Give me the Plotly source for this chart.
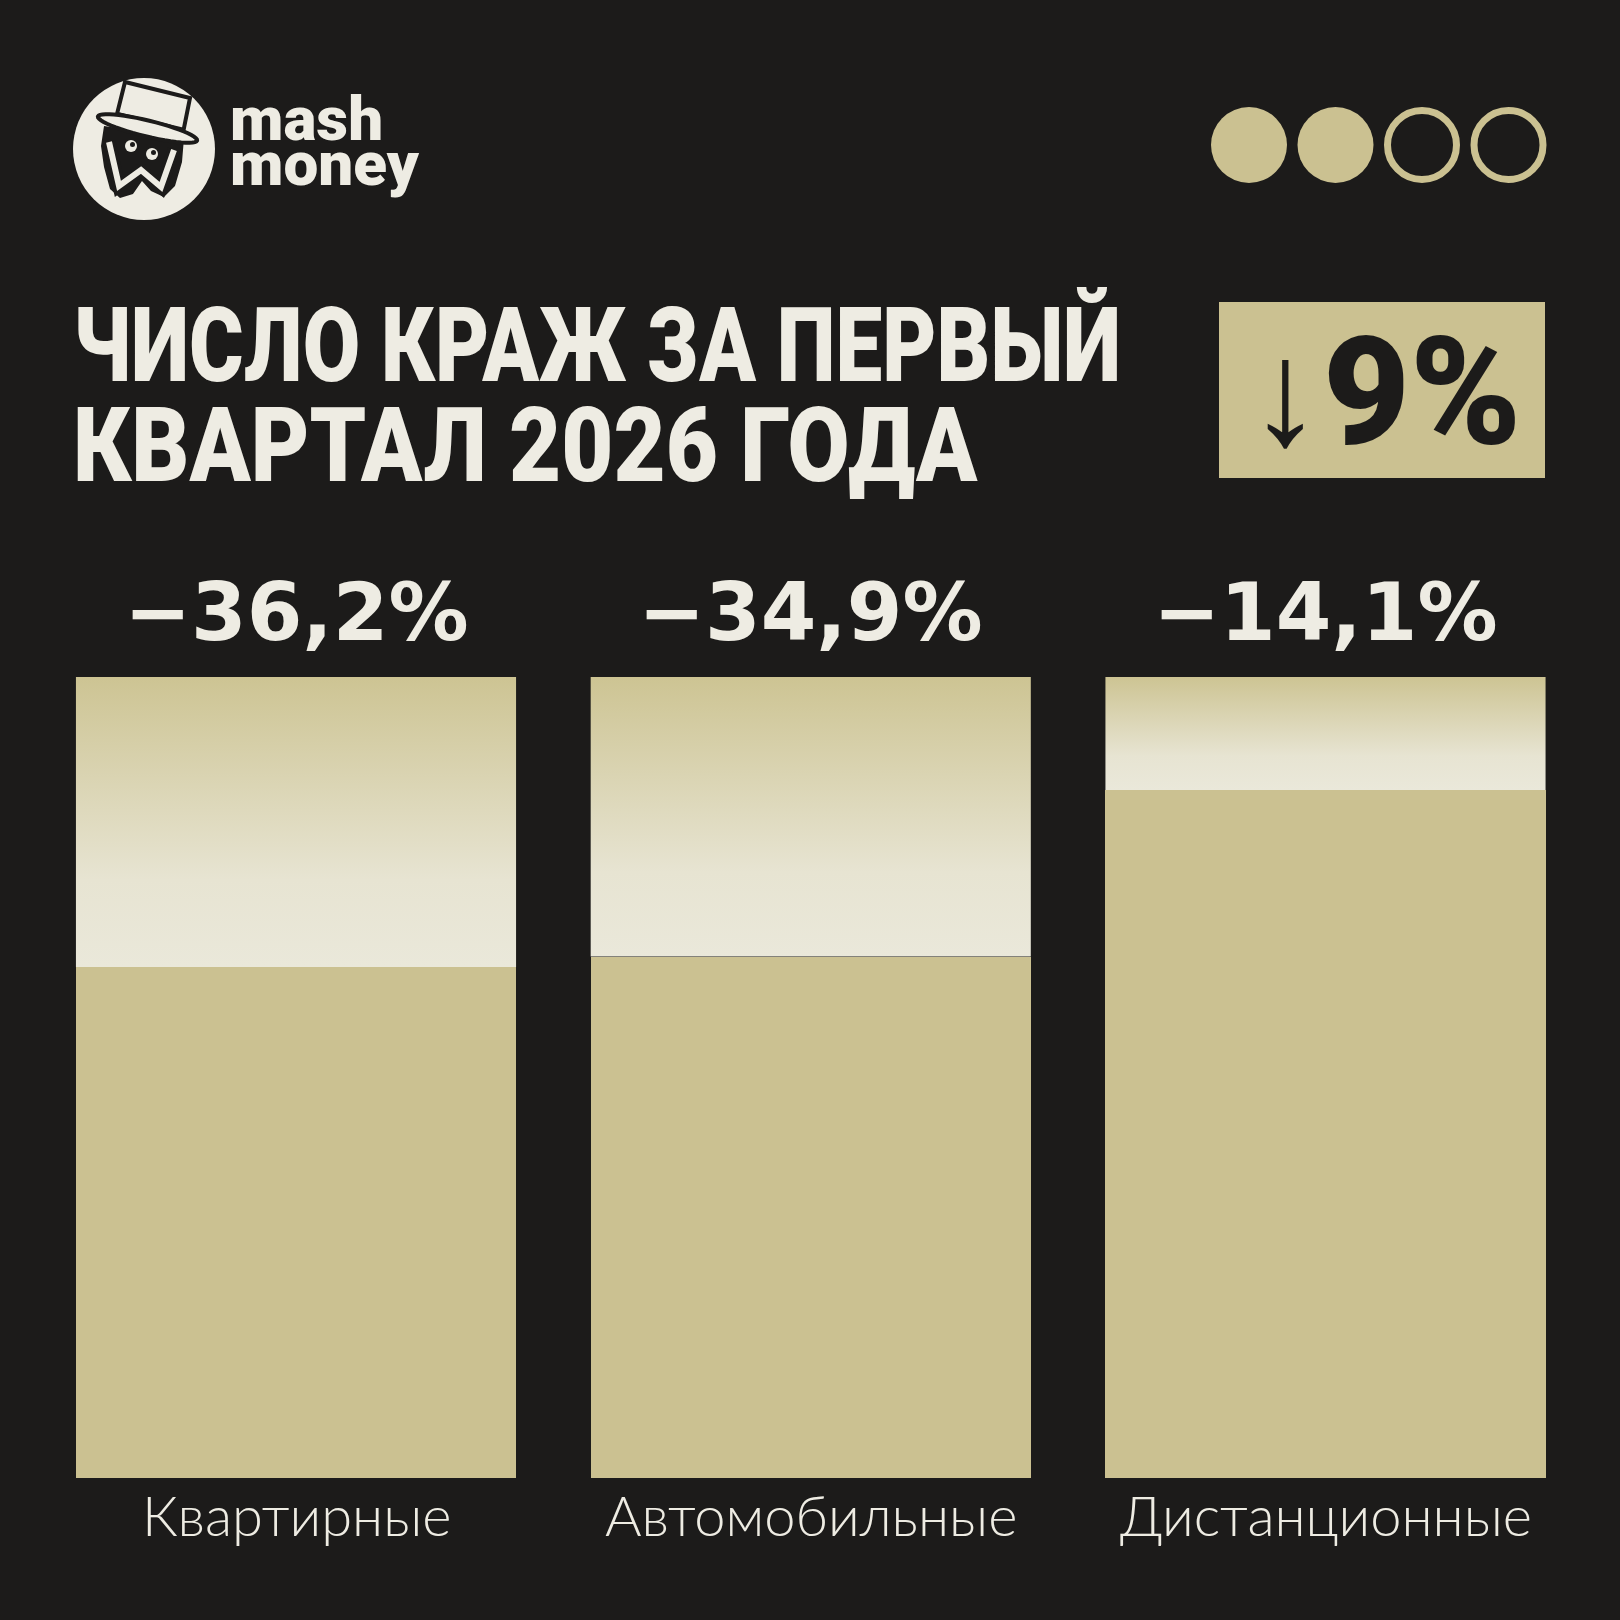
import math
import plotly.graph_objects as go

# ---------------- data ----------------
categories = ["Квартирные", "Автомобильные", "Дистанционные"]
decline_pct = [36.2, 34.9, 14.1]          # падение числа краж, %
prev_level = [100, 100, 100]              # уровень прошлого года (=100%)
title_lines = ["ЧИСЛО КРАЖ ЗА ПЕРВЫЙ", "КВАРТАЛ 2026 ГОДА"]
total_change = "↓9%"
brand_lines = ["mash", "money"]
progress_filled = [True, True, False, False]

current_level = [p - d for p, d in zip(prev_level, decline_pct)]
pct_labels = [("−" + f"{d:.1f}%").replace(".", ",") for d in decline_pct]

# ---------------- style ----------------
W = H = 1620
BG = "#1c1b1a"
TAN = "#cbc191"
TAN_TOP = "#cdc493"
CREAM = "#eae8da"
TEXT = "#eeece3"
DARK = "#1c1b1a"
BAR_W = 0.855


def PX(x):
    return x / W


def PY(y):
    return 1 - y / H


def path_from(points, close=True):
    s = "M " + " L ".join(f"{PX(x):.5f},{PY(y):.5f}" for x, y in points)
    return s + (" Z" if close else "")


fig = go.Figure()

# current level bars
fig.add_trace(go.Bar(
    x=list(range(len(categories))), y=current_level, width=BAR_W,
    marker=dict(color=TAN, line=dict(width=0)), hoverinfo="skip",
))

# lost part (previous level minus current) with vertical gradient
for i, (c, p) in enumerate(zip(current_level, prev_level)):
    fig.add_trace(go.Scatter(
        x=[i - BAR_W / 2, i + BAR_W / 2, i + BAR_W / 2, i - BAR_W / 2, i - BAR_W / 2],
        y=[c, c, p, p, c],
        mode="lines", line=dict(width=0), fill="toself",
        fillgradient=dict(type="vertical", start=c, stop=p,
                          colorscale=[[0, CREAM], [0.3, "#e7e4d2"], [1, TAN_TOP]]),
        hoverinfo="skip",
    ))

annotations = []
# percentage labels
for i, t in enumerate(pct_labels):
    annotations.append(dict(x=i, xref="x", y=PY(612), yref="paper", text=t,
                            showarrow=False, xanchor="center", yanchor="middle",
                            font=dict(family="DejaVu Sans", size=80, color=TEXT, weight="bold")))
# category labels
for i, t in enumerate(categories):
    annotations.append(dict(x=i, xref="x", y=PY(1514), yref="paper", text=t,
                            showarrow=False, xanchor="center", yanchor="middle",
                            font=dict(family="Lato", size=56, color=TEXT, weight=300)))
# title
for line, yc in zip(title_lines, [345, 446]):
    annotations.append(dict(x=PX(71), xref="paper", y=PY(yc), yref="paper", text=line,
                            showarrow=False, xanchor="left", yanchor="middle",
                            font=dict(family="Roboto", size=103, color=TEXT, weight=900)))
# badge text
annotations.append(dict(x=PX(1384), xref="paper", y=PY(393), yref="paper", text=total_change,
                        showarrow=False, xanchor="center", yanchor="middle",
                        font=dict(family="Roboto", size=150, color=DARK, weight=900)))
# brand
for line, yc in zip(brand_lines, [118, 163]):
    annotations.append(dict(x=PX(228), xref="paper", y=PY(yc), yref="paper", text=line,
                            showarrow=False, xanchor="left", yanchor="middle",
                            font=dict(family="Roboto", size=62, color=TEXT, weight=900)))

shapes = []
# progress dots
for k, filled in enumerate(progress_filled):
    cx, cy, r = 1249 + k * 86.5, 145, 38
    if filled:
        shapes.append(dict(type="circle", xref="paper", yref="paper",
                           x0=PX(cx - r), x1=PX(cx + r), y0=PY(cy + r), y1=PY(cy - r),
                           fillcolor=TAN, line=dict(width=0)))
    else:
        rr = r - 3.5
        shapes.append(dict(type="circle", xref="paper", yref="paper",
                           x0=PX(cx - rr), x1=PX(cx + rr), y0=PY(cy + rr), y1=PY(cy - rr),
                           fillcolor="rgba(0,0,0,0)", line=dict(color=TAN, width=7)))
# badge box
shapes.append(dict(type="rect", xref="paper", yref="paper", layer="below",
                   x0=PX(1219), x1=PX(1545), y0=PY(478), y1=PY(302),
                   fillcolor=TAN, line=dict(width=0)))

# logo
lcx, lcy, lr = 144, 149, 71
shapes.append(dict(type="circle", xref="paper", yref="paper",
                   x0=PX(lcx - lr), x1=PX(lcx + lr), y0=PY(lcy + lr), y1=PY(lcy - lr),
                   fillcolor=TEXT, line=dict(width=0)))
head = [(104, 126), (184, 138), (182, 162), (175, 186), (164, 197), (151, 191),
        (142, 181), (133, 194), (120, 198), (110, 189), (104, 167), (101, 146)]
shapes.append(dict(type="path", xref="paper", yref="paper", path=path_from(head),
                   fillcolor=DARK, line=dict(width=0)))
wpts = [(109, 142), (119, 186), (141, 170), (161, 187), (174, 150)]
shapes.append(dict(type="path", xref="paper", yref="paper", path=path_from(wpts, close=False),
                   fillcolor="rgba(0,0,0,0)", line=dict(color=DARK, width=13)))
shapes.append(dict(type="path", xref="paper", yref="paper", path=path_from(wpts, close=False),
                   fillcolor="rgba(0,0,0,0)", line=dict(color=TEXT, width=6)))
for ex, ey in [(131, 146), (152, 154)]:
    shapes.append(dict(type="circle", xref="paper", yref="paper",
                       x0=PX(ex - 6), x1=PX(ex + 6), y0=PY(ey + 6), y1=PY(ey - 6),
                       fillcolor=TEXT, line=dict(width=0)))
    shapes.append(dict(type="circle", xref="paper", yref="paper",
                       x0=PX(ex - 1), x1=PX(ex + 4), y0=PY(ey + 1), y1=PY(ey - 4),
                       fillcolor=DARK, line=dict(width=0)))
crown = [(117, 114), (183, 133), (190, 98), (125, 82)]
shapes.append(dict(type="path", xref="paper", yref="paper", path=path_from(crown),
                   fillcolor=TEXT, line=dict(color=DARK, width=4)))
band = [(118, 112), (185, 128), (183, 137), (116, 121)]
shapes.append(dict(type="path", xref="paper", yref="paper", path=path_from(band),
                   fillcolor=DARK, line=dict(width=0)))
bcx, bcy, ba, bb, ang = 147.5, 128.5, 51, 8, math.radians(13.6)
brim = []
for k in range(48):
    t = 2 * math.pi * k / 48
    ex, ey = ba * math.cos(t), bb * math.sin(t)
    brim.append((bcx + ex * math.cos(ang) - ey * math.sin(ang),
                 bcy + ex * math.sin(ang) + ey * math.cos(ang)))
shapes.append(dict(type="path", xref="paper", yref="paper", path=path_from(brim),
                   fillcolor=TEXT, line=dict(color=DARK, width=4)))

x_left = -296 / 514.75
x_right = (W - 296) / 514.75
px_per_unit = (1478 - 677) / 100
y_bottom = -(H - 1478) / px_per_unit
y_top = 100 + 677 / px_per_unit

fig.update_layout(
    width=W, height=H, margin=dict(l=0, r=0, t=0, b=0),
    paper_bgcolor=BG, plot_bgcolor=BG, showlegend=False,
    xaxis=dict(range=[x_left, x_right], visible=False, fixedrange=True),
    yaxis=dict(range=[y_bottom, y_top], visible=False, fixedrange=True),
    annotations=annotations, shapes=shapes, bargap=0,
)

# page: no body margin; condense the heavy title (real text, scaled horizontally)
post_js = """
document.body.style.margin = '0';
document.body.style.padding = '0';
document.body.style.overflow = 'hidden';
document.body.style.background = '%s';
(document.fonts ? document.fonts.ready : Promise.resolve()).then(function () {
  var lines = %s;
  var targets = [1048, 905];
  var els = Array.prototype.slice.call(document.querySelectorAll('text.annotation-text'));
  els.forEach(function (e) {
    var k = lines.indexOf(e.textContent);
    if (k >= 0) {
      var bb = e.getBBox();
      var sx = targets[k] / bb.width;
      var tr = e.getAttribute('transform') || '';
      e.setAttribute('transform', tr + ' translate(' + bb.x + ' 0) scale(' + sx + ' 1) translate(' + (-bb.x) + ' 0)');
    }
  });
});
""" % (BG, '["' + '","'.join(title_lines) + '"]')

fig.write_html("out.html", post_script=post_js, config={"displayModeBar": False})
